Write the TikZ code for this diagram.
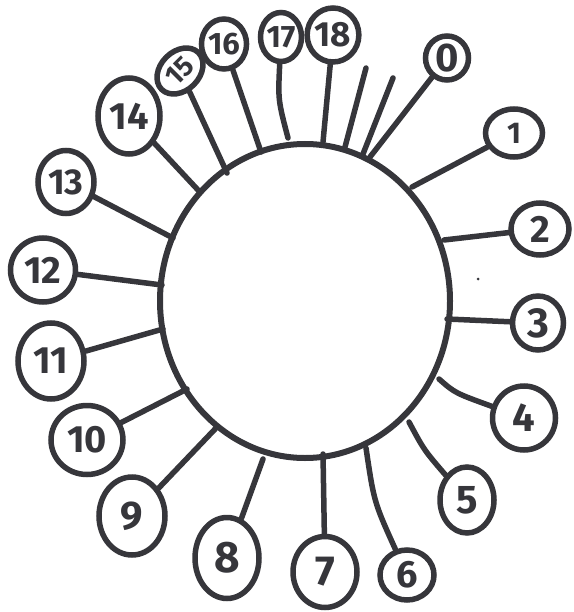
\documentclass[tikz,border=0pt]{standalone}
\usepackage{fontspec}
\setmainfont{Fira Sans}
\usetikzlibrary{shapes.geometric}
\definecolor{ink}{HTML}{36363B}
\newcommand{\digsize}[1]{\fontsize{#1}{#1}\selectfont}
\tikzset{
  hub/.style={draw=ink, ellipse, line width=6pt, inner sep=0pt, minimum width=290pt, minimum height=314pt},
  leaf/.style={draw=ink, ellipse, line width=5.5pt, inner sep=0pt, text=ink, font=\digsize{38}\bfseries},
  spoke/.style={draw=ink, line width=5.5pt, line cap=round},
}
\begin{document}
\begin{tikzpicture}[x=1pt, y=-1pt]
\useasboundingbox (0,0) rectangle (573,612);
\node[hub] (hub) at (305,301) {};

\node[leaf, minimum width=43pt, minimum height=44pt, font=\digsize{40}\bfseries] (n0) at (447,58) {0};
\node[leaf, minimum width=57pt, minimum height=48pt, font=\digsize{30}\bfseries] (n1) at (514,133) {1};
\node[leaf, minimum width=58pt, minimum height=52pt] (n2) at (540,229) {2};
\node[leaf, minimum width=51pt, minimum height=54pt, font=\digsize{42}\bfseries] (n3) at (538,323) {3};
\node[leaf, minimum width=63pt, minimum height=64pt, font=\digsize{40}\bfseries] (n4) at (524,418) {4};
\node[leaf, minimum width=54pt, minimum height=66pt, font=\digsize{40}\bfseries] (n5) at (467,500) {5};
\node[leaf, minimum width=54pt, minimum height=50pt] (n6) at (407,575) {6};
\node[leaf, minimum width=64pt, minimum height=71pt, font=\digsize{42}\bfseries] (n7) at (325,572) {7};
\node[leaf, minimum width=64pt, minimum height=81pt, font=\digsize{44}\bfseries] (n8) at (227,558) {8};
\node[leaf, minimum width=66pt, minimum height=78pt, font=\digsize{40}\bfseries] (n9) at (132,516) {9};
\node[leaf, minimum width=72pt, minimum height=69pt] (n10) at (87,440) {10};
\node[leaf, minimum width=66pt, minimum height=76pt] (n11) at (51,361) {11};
\node[leaf, minimum width=65pt, minimum height=64pt] (n12) at (43,270) {12};
\node[leaf, minimum width=56pt, minimum height=63pt, font=\digsize{36}\bfseries] (n13) at (66,182) {13};
\node[leaf, minimum width=62pt, minimum height=76pt] (n14) at (129,116) {14};
\node[leaf, minimum width=52pt, minimum height=39pt, rotate=45, font=\digsize{28}\bfseries] (n15) at (180,71) {15};
\node[leaf, minimum width=41pt, minimum height=50pt, font=\digsize{31}\bfseries] (n16) at (224,44) {16};
\node[leaf, minimum width=41pt, minimum height=49pt, font=\digsize{31}\bfseries] (n17) at (281,37) {17};
\node[leaf, minimum width=51pt, minimum height=54pt, font=\digsize{35}\bfseries] (n18) at (333,35) {18};

% where the spokes meet the hub
\coordinate (h0) at (370,157);
\coordinate (h1) at (412,187);
\coordinate (h2) at (444,240);
\coordinate (h3) at (447,319);
\coordinate (h4) at (439,379);
\coordinate (h5) at (409,422);
\coordinate (h6) at (366,448);
\coordinate (h7) at (323,454);
\coordinate (h8) at (263,459);
\coordinate (h9) at (217,427);
\coordinate (h10) at (187,389);
\coordinate (h11) at (163,329);
\coordinate (h12) at (162,285);
\coordinate (h13) at (173,238);
\coordinate (h14) at (198,190);
\coordinate (h15) at (227,173);
\coordinate (h16) at (261,152);
\coordinate (h17) at (288,138);
\coordinate (h18) at (323,142);
% the two bare spokes
\coordinate (a1) at (366,68);
\coordinate (a2) at (345,147);
\coordinate (b1) at (393,78);
\coordinate (b2) at (363,154);

\draw[spoke] (n0) -- (h0);
\draw[spoke] (n1) -- (h1);
\draw[spoke] (n2) -- (h2);
\draw[spoke] (n3) -- (h3);
\draw[spoke] (h4) .. controls (455,393) .. (n4);
\draw[spoke] (h5) .. controls (424,450) .. (n5);
\draw[spoke] (h6) .. controls (374,502) .. (n6);
\draw[spoke] (n7) -- (h7);
\draw[spoke] (n8) -- (h8);
\draw[spoke] (n9) -- (h9);
\draw[spoke] (n10) -- (h10);
\draw[spoke] (n11) -- (h11);
\draw[spoke] (n12) -- (h12);
\draw[spoke] (n13) -- (h13);
\draw[spoke] (n14) -- (h14);
\draw[spoke] (n15) -- (h15);
\draw[spoke] (n16) -- (h16);
\draw[spoke] (n17) .. controls (278,100) .. (h17);
\draw[spoke] (n18) -- (h18);
\draw[spoke] (a1) -- (a2);
\draw[spoke] (b1) -- (b2);

\fill[ink] (478,279) circle (1.5pt);
\end{tikzpicture}
\end{document}
